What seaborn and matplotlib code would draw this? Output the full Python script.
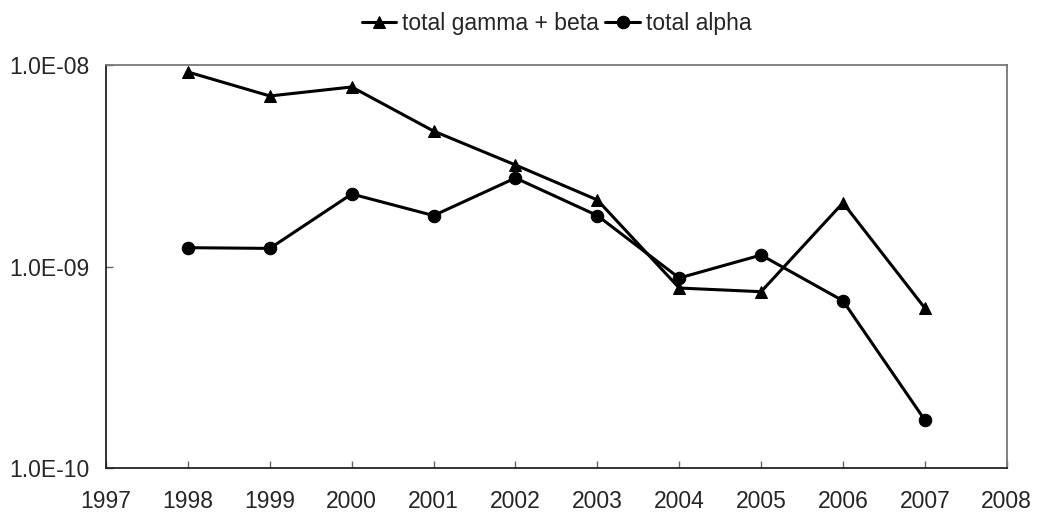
import pandas as pd
import numpy as np
import matplotlib.pyplot as plt
import matplotlib.ticker as mticker
import seaborn as sns

# values
years = [1998, 1999, 2000, 2001, 2002, 2003, 2004, 2005, 2006, 2007]
gamma_beta = [9.23e-9, 7.02e-9, 7.78e-9, 4.70e-9, 3.19e-9, 2.14e-9, 7.82e-10, 7.50e-10, 2.07e-9, 6.22e-10]
alpha = [1.24e-9, 1.23e-9, 2.29e-9, 1.79e-9, 2.75e-9, 1.79e-9, 8.77e-10, 1.14e-9, 6.76e-10, 1.73e-10]
series_names = ["total gamma + beta", "total alpha"]

df = pd.DataFrame({
    "year": years * 2,
    "value": gamma_beta + alpha,
    "series": [series_names[0]] * len(years) + [series_names[1]] * len(years),
})

sns.set_style("white")
plt.rcParams["font.family"] = ["Liberation Sans", "DejaVu Sans"]

fig = plt.figure(figsize=(10.4, 5.18), dpi=100)
ax = fig.add_axes([0.102, 0.0965, 0.866, 0.778])

sns.lineplot(data=df, x="year", y="value", style="series",
             markers={series_names[0]: "^", series_names[1]: "o"},
             dashes=False, color="black", linewidth=2.2, markersize=9,
             markeredgecolor="black", ax=ax)

ax.set_yscale("log")
ax.set_ylim(1e-10, 1e-8)
ax.set_xlim(1997, 2008)
ax.set_xticks(range(1997, 2009))
ax.yaxis.set_major_locator(mticker.LogLocator(base=10, numticks=5))
ax.yaxis.set_minor_locator(mticker.NullLocator())
ax.yaxis.set_major_formatter(mticker.FuncFormatter(lambda v, p: f"{v:.1E}"))
ax.tick_params(axis="both", direction="in", length=5, width=1, labelsize=16.5,
               left=True, bottom=True, color="#666666")
ax.tick_params(axis="x", pad=16)
ax.tick_params(axis="y", pad=12)
ax.set_xlabel(None)
ax.set_ylabel(None)
ax.xaxis.get_offset_text().set_visible(False)
ax.yaxis.get_offset_text().set_visible(False)
for name, s in ax.spines.items():
    s.set_color("#222222" if name in ("left", "bottom") else "#777777")
    s.set_linewidth(1.3)

handles, labels = ax.get_legend_handles_labels()
ax.get_legend().remove()
fig.legend(handles, labels, loc="center", bbox_to_anchor=(0.535, 0.955),
           ncol=2, frameon=False, fontsize=16.5, handlelength=1.5,
           handletextpad=0.25, columnspacing=0.3, borderaxespad=0)

fig.savefig("out.png", dpi=100)
